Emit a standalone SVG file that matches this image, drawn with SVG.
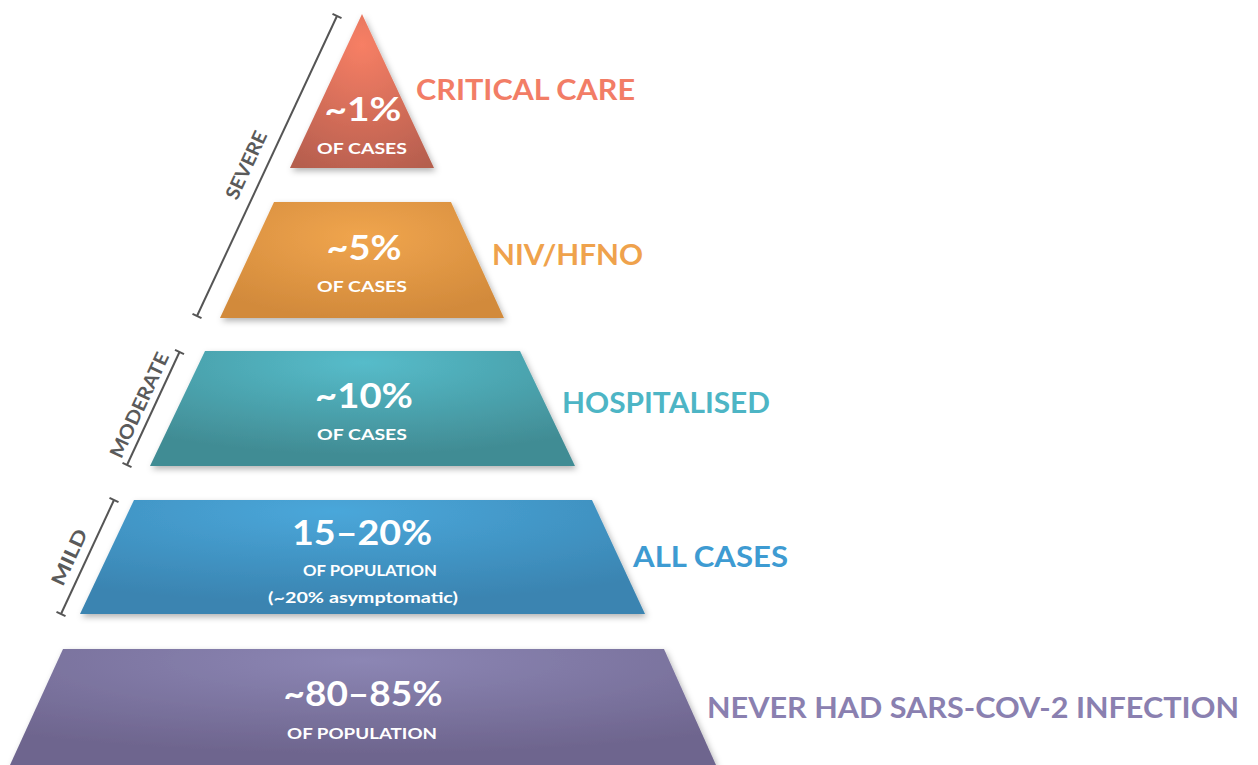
<svg xmlns="http://www.w3.org/2000/svg" width="1258" height="765" viewBox="0 0 1258 765">
<defs>
<radialGradient id="gRed" cx="0.5" cy="0.2" r="0.9">
<stop offset="0" stop-color="#F77F65"/><stop offset="1" stop-color="#B55E4E"/>
</radialGradient>
<radialGradient id="gOrange" cx="0.5" cy="0.3" r="0.7">
<stop offset="0" stop-color="#F0A54E"/><stop offset="1" stop-color="#D28A3B"/>
</radialGradient>
<radialGradient id="gTeal" cx="0.5" cy="0.1" r="0.8">
<stop offset="0" stop-color="#56BCCA"/><stop offset="1" stop-color="#418C94"/>
</radialGradient>
<radialGradient id="gBlue" cx="0.45" cy="0.1" r="0.8">
<stop offset="0" stop-color="#4AA7DA"/><stop offset="1" stop-color="#3A84B1"/>
</radialGradient>
<radialGradient id="gPurple" cx="0.5" cy="0.1" r="0.8">
<stop offset="0" stop-color="#8C86B4"/><stop offset="1" stop-color="#6E658E"/>
</radialGradient>
<filter id="shadow" x="-10%" y="-10%" width="120%" height="130%">
<feDropShadow dx="2" dy="3" stdDeviation="3" flood-color="#000" flood-opacity="0.3"/>
</filter>
</defs>
<style>
.big{font-family:Lato,"Liberation Sans",sans-serif;font-weight:700;fill:#fff;text-anchor:middle}
.sub{font-family:Lato,"Liberation Sans",sans-serif;font-weight:700;fill:#fff;text-anchor:middle;font-size:16px}
.lab{font-family:Lato,"Liberation Sans",sans-serif;font-weight:700;font-size:28px}
.br{font-family:Lato,"Liberation Sans",sans-serif;font-weight:700;font-size:19px;fill:#5a5a5a;text-anchor:middle}
.ln{stroke:#555;stroke-width:2;fill:none}
</style>
<g id="critical">
<polygon points="362,14 434,168 290,168" fill="url(#gRed)" filter="url(#shadow)"/>
<text class="big" x="363" y="121" font-size="33" textLength="77" lengthAdjust="spacingAndGlyphs">~1%</text>
<text class="sub" x="362" y="154" textLength="90" lengthAdjust="spacingAndGlyphs">OF CASES</text>
<text class="lab" x="416" y="100" fill="#F27D66" textLength="219" lengthAdjust="spacingAndGlyphs">CRITICAL CARE</text>
</g>
<g id="niv">
<polygon points="274,202 451,202 504,318 220,318" fill="url(#gOrange)" filter="url(#shadow)"/>
<text class="big" x="364" y="260" font-size="34" textLength="75" lengthAdjust="spacingAndGlyphs">~5%</text>
<text class="sub" x="362" y="292" textLength="90" lengthAdjust="spacingAndGlyphs">OF CASES</text>
<text class="lab" x="492" y="265" fill="#EFA24C" textLength="151" lengthAdjust="spacingAndGlyphs">NIV/HFNO</text>
</g>
<g id="hospitalised">
<polygon points="205,351 520,351 575,466 150,466" fill="url(#gTeal)" filter="url(#shadow)"/>
<text class="big" x="364" y="408" font-size="34" textLength="98" lengthAdjust="spacingAndGlyphs">~10%</text>
<text class="sub" x="362" y="440" textLength="90" lengthAdjust="spacingAndGlyphs">OF CASES</text>
<text class="lab" x="562" y="413" fill="#4DB5C5" textLength="208" lengthAdjust="spacingAndGlyphs">HOSPITALISED</text>
</g>
<g id="allcases">
<polygon points="134,500 592,500 645,614 80,614" fill="url(#gBlue)" filter="url(#shadow)"/>
<text class="big" x="362" y="545" font-size="34" textLength="140" lengthAdjust="spacingAndGlyphs">15–20%</text>
<text class="sub" x="370" y="576" textLength="134" lengthAdjust="spacingAndGlyphs">OF POPULATION</text>
<text class="sub" x="363" y="603" font-size="14" font-weight="400" textLength="190" lengthAdjust="spacingAndGlyphs">(~20% asymptomatic)</text>
<text class="lab" x="633" y="567" fill="#3E9BD2" textLength="155" lengthAdjust="spacingAndGlyphs">ALL CASES</text>
</g>
<g id="never">
<polygon points="63,649 664,649 716,765 10,765" fill="url(#gPurple)" filter="url(#shadow)"/>
<text class="big" x="363" y="706" font-size="34" textLength="159" lengthAdjust="spacingAndGlyphs">~80–85%</text>
<text class="sub" x="362" y="739" textLength="150" lengthAdjust="spacingAndGlyphs">OF POPULATION</text>
<text class="lab" x="707" y="718" fill="#8A80B0" textLength="532" lengthAdjust="spacingAndGlyphs">NEVER HAD SARS-COV-2 INFECTION</text>
</g>
<g id="connectors">
<g id="severe">
<line class="ln" x1="197" y1="316" x2="337" y2="16"/>
<line class="ln" x1="192.5" y1="313.9" x2="201.5" y2="318.1"/>
<line class="ln" x1="332.5" y1="13.9" x2="341.5" y2="18.1"/>
<text class="br" transform="translate(246,165) rotate(-65)" y="7" textLength="73" lengthAdjust="spacingAndGlyphs">SEVERE</text>
</g>
<g id="moderate">
<line class="ln" x1="127" y1="465" x2="179.5" y2="352"/>
<line class="ln" x1="122.5" y1="462.9" x2="131.5" y2="467.1"/>
<line class="ln" x1="175" y1="349.9" x2="184" y2="354.1"/>
<text class="br" transform="translate(139,405) rotate(-65)" y="7" textLength="114" lengthAdjust="spacingAndGlyphs">MODERATE</text>
</g>
<g id="mild">
<line class="ln" x1="61" y1="614" x2="114" y2="500"/>
<line class="ln" x1="56.5" y1="611.9" x2="65.5" y2="616.1"/>
<line class="ln" x1="109.5" y1="497.9" x2="118.5" y2="502.1"/>
<text class="br" transform="translate(69,557) rotate(-65)" y="7" textLength="60" lengthAdjust="spacingAndGlyphs">MILD</text>
</g>
</g>
</svg>
